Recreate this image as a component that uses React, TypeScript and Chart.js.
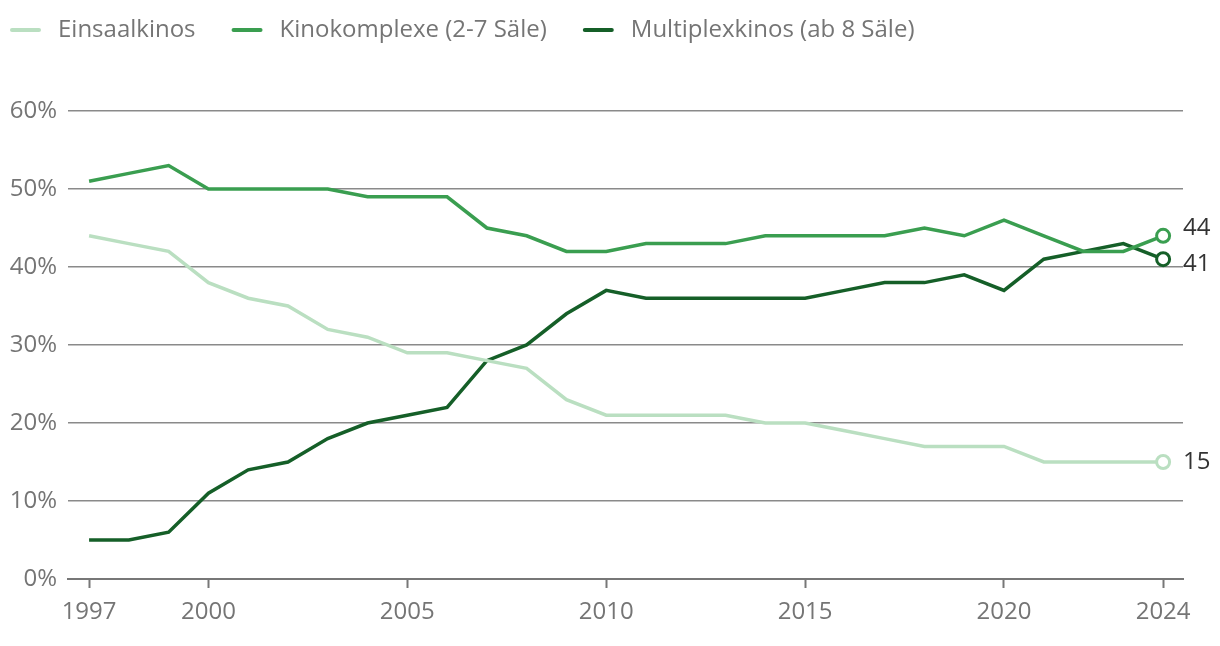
import React, { useEffect, useRef } from "react";
import { Chart, registerables } from "chart.js";

Chart.register(...registerables);

const years = [1997, 1998, 1999, 2000, 2001, 2002, 2003, 2004, 2005, 2006, 2007, 2008, 2009, 2010, 2011, 2012, 2013, 2014, 2015, 2016, 2017, 2018, 2019, 2020, 2021, 2022, 2023, 2024];
const einsaal = [44, 43, 42, 38, 36, 35, 32, 31, 29, 29, 28, 27, 23, 21, 21, 21, 21, 20, 20, 19, 18, 17, 17, 17, 15, 15, 15, 15];
const komplexe = [51, 52, 53, 50, 50, 50, 50, 49, 49, 49, 45, 44, 42, 42, 43, 43, 43, 44, 44, 44, 44, 45, 44, 46, 44, 42, 42, 44];
const multiplex = [5, 5, 6, 11, 14, 15, 18, 20, 21, 22, 28, 30, 34, 37, 36, 36, 36, 36, 36, 37, 38, 38, 39, 37, 41, 42, 43, 41];
const xTicks = [1997, 2000, 2005, 2010, 2015, 2020, 2024];
const yTicks = [0, 10, 20, 30, 40, 50, 60];
const seriesNames = ["Einsaalkinos", "Kinokomplexe (2-7 Säle)", "Multiplexkinos (ab 8 Säle)"];
const colors = ["#badfc1", "#3a9e50", "#155f28"];

const FONT = "'Open Sans', 'Noto Sans', sans-serif";
const GRAY = "#757575";
const labelDy = [0, -8, 5];

export default function App() {
  const ref = useRef<HTMLCanvasElement | null>(null);
  useEffect(() => {
    document.body.style.margin = "0";
    const canvas = ref.current!;
    const seriesData = [einsaal, komplexe, multiplex];
    const datasets = seriesData.map((vals, i) => ({
      label: seriesNames[i],
      data: vals.map((v, j) => ({ x: years[j], y: v })),
      borderColor: colors[i],
      backgroundColor: "#ffffff",
      borderWidth: 3.5,
      pointRadius: vals.map((_, j) => (j === vals.length - 1 ? 6.5 : 0)),
      pointBorderWidth: 3,
      pointBackgroundColor: "#ffffff",
      pointBorderColor: colors[i],
      tension: 0,
      fill: false,
    }));

    const legendPlugin = {
      id: "customLegend",
      afterDraw(chart: any) {
        const ctx = chart.ctx;
        ctx.save();
        ctx.font = `24px ${FONT}`;
        ctx.textBaseline = "middle";
        let x = 12;
        const y = 30;
        seriesNames.forEach((name, i) => {
          ctx.strokeStyle = colors[i];
          ctx.lineWidth = 4;
          ctx.lineCap = "round";
          ctx.beginPath();
          ctx.moveTo(x, y);
          ctx.lineTo(x + 27, y);
          ctx.stroke();
          x += 46;
          ctx.fillStyle = GRAY;
          ctx.textAlign = "left";
          ctx.fillText(name, x, y);
          x += ctx.measureText(name).width + 38;
        });
        ctx.restore();
      },
    };

    const endLabelPlugin = {
      id: "endLabels",
      afterDatasetsDraw(chart: any) {
        const ctx = chart.ctx;
        ctx.save();
        ctx.font = `24px ${FONT}`;
        ctx.textBaseline = "middle";
        ctx.textAlign = "left";
        ctx.fillStyle = "#333333";
        chart.data.datasets.forEach((ds: any, i: number) => {
          const meta = chart.getDatasetMeta(i);
          const last = meta.data[meta.data.length - 1];
          const v = seriesData[i][seriesData[i].length - 1];
          ctx.fillText(String(v), last.x + 20, last.y + labelDy[i]);
        });
        ctx.restore();
      },
    };

    const chart = new Chart(canvas, {
      type: "line",
      data: { datasets: datasets as any },
      options: {
        animation: false,
        responsive: false,
        maintainAspectRatio: false,
        layout: { padding: { top: 111, right: 37, left: 0, bottom: 0 } },
        plugins: { legend: { display: false }, tooltip: { enabled: false } },
        scales: {
          x: {
            type: "linear",
            min: 1996.47,
            max: 2024.5,
            afterBuildTicks(scale: any) {
              scale.ticks = xTicks.map((v) => ({ value: v }));
            },
            afterFit(scale: any) {
              scale.height = 67;
            },
            grid: {
              drawOnChartArea: false,
              drawTicks: true,
              tickLength: 9,
              tickWidth: 2,
              tickColor: "#777777",
            },
            border: { display: true, color: "#777777", width: 2 },
            ticks: {
              autoSkip: false,
              maxRotation: 0,
              padding: 10,
              color: GRAY,
              font: { family: FONT, size: 24 },
              callback: (v: any) => String(v),
            },
          },
          y: {
            min: 0,
            max: 60,
            afterBuildTicks(scale: any) {
              scale.ticks = yTicks.map((v) => ({ value: v }));
            },
            afterFit(scale: any) {
              scale.width = 68;
            },
            grid: { color: "#8a8a8a", lineWidth: 1.5, drawTicks: false },
            border: { display: false },
            ticks: {
              padding: 11,
              color: GRAY,
              font: { family: FONT, size: 24 },
              callback: (v: any) => `${v}%`,
            },
          },
        },
      },
      plugins: [legendPlugin, endLabelPlugin],
    });
    return () => chart.destroy();
  }, []);
  return (
    <div style={{ width: 1220, height: 646 }}>
      <canvas ref={ref} width={1220} height={646} style={{ width: 1220, height: 646, display: "block" }} />
    </div>
  );
}
